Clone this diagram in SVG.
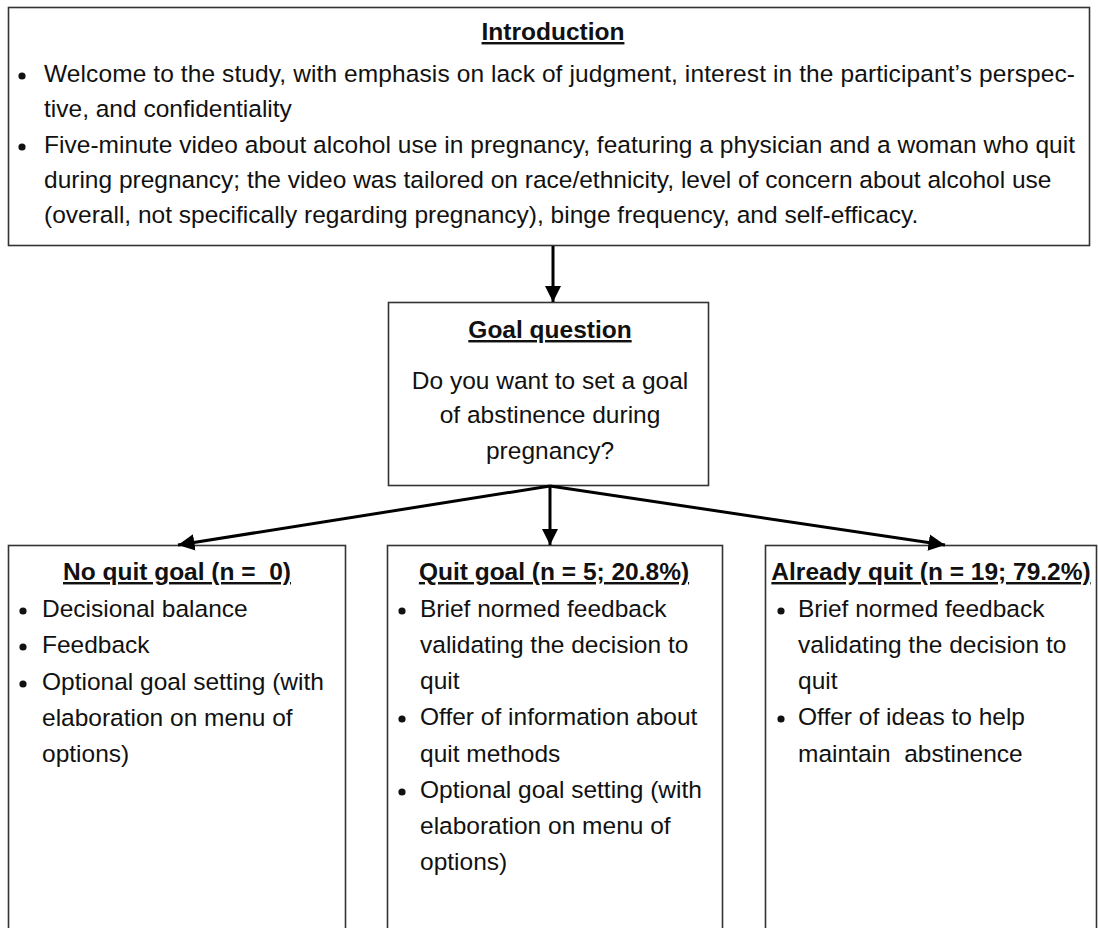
<svg xmlns="http://www.w3.org/2000/svg" width="1098" height="928" viewBox="0 0 1098 928">
<style>
.box{fill:#fff;stroke:#333;stroke-width:1.6}
.t{font-family:"Liberation Sans",Arial,sans-serif;font-size:24.5px;fill:#111;white-space:pre}
.h{font-weight:bold;text-decoration:underline;text-anchor:middle}
.c{text-anchor:middle}
.b{fill:#111}
.conn{stroke:#000;stroke-width:3;fill:none}
</style>
<defs>
<marker id="ah" viewBox="0 0 10 10" refX="10" refY="5" markerWidth="5.5" markerHeight="5.5" markerUnits="strokeWidth" orient="auto">
<path d="M0,0 L10,5 L0,10 z" fill="#000"/>
</marker>
</defs>
<rect width="1098" height="928" fill="#fff"/>
<g id="intro">
<rect class="box" x="8.5" y="7.5" width="1081" height="238"/>
<text class="t h" x="553" y="40">Introduction</text>
<circle class="b" cx="22" cy="76" r="3.6"/>
<text class="t" x="44" y="82" textLength="1031" lengthAdjust="spacing">Welcome to the study, with emphasis on lack of judgment, interest in the participant’s perspec-</text>
<text class="t" x="44" y="117">tive, and confidentiality</text>
<circle class="b" cx="22" cy="147" r="3.6"/>
<text class="t" x="44" y="153" textLength="1031" lengthAdjust="spacing">Five-minute video about alcohol use in pregnancy, featuring a physician and a woman who quit</text>
<text class="t" x="44" y="188">during pregnancy; the video was tailored on race/ethnicity, level of concern about alcohol use</text>
<text class="t" x="44" y="223">(overall, not specifically regarding pregnancy), binge frequency, and self-efficacy.</text>
</g>
<g id="goal">
<rect class="box" x="388.5" y="302.5" width="320" height="183"/>
<text class="t h" x="550" y="338">Goal question</text>
<text class="t c" x="550" y="389">Do you want to set a goal</text>
<text class="t c" x="550" y="423">of abstinence during</text>
<text class="t c" x="550" y="459">pregnancy?</text>
</g>
<g id="noquit">
<rect class="box" x="8.5" y="545.5" width="337" height="400"/>
<text class="t h" x="177" y="580" xml:space="preserve">No quit goal (n =  0)</text>
<circle class="b" cx="23" cy="611" r="3.6"/>
<text class="t" x="42" y="617">Decisional balance</text>
<circle class="b" cx="23" cy="647" r="3.6"/>
<text class="t" x="42" y="653">Feedback</text>
<circle class="b" cx="23" cy="684" r="3.6"/>
<text class="t" x="42" y="690">Optional goal setting (with</text>
<text class="t" x="42" y="726">elaboration on menu of</text>
<text class="t" x="42" y="762">options)</text>
</g>
<g id="quitgoal">
<rect class="box" x="387.5" y="545.5" width="335" height="400"/>
<text class="t h" x="554" y="580">Quit goal (n = 5; 20.8%)</text>
<circle class="b" cx="402" cy="611" r="3.6"/>
<text class="t" x="420" y="617">Brief normed feedback</text>
<text class="t" x="420" y="653">validating the decision to</text>
<text class="t" x="420" y="689">quit</text>
<circle class="b" cx="402" cy="719" r="3.6"/>
<text class="t" x="420" y="725">Offer of information about</text>
<text class="t" x="420" y="762">quit methods</text>
<circle class="b" cx="402" cy="792" r="3.6"/>
<text class="t" x="420" y="798">Optional goal setting (with</text>
<text class="t" x="420" y="834">elaboration on menu of</text>
<text class="t" x="420" y="870">options)</text>
</g>
<g id="already">
<rect class="box" x="765.5" y="545.5" width="331" height="400"/>
<text class="t h" x="931" y="580">Already quit (n = 19; 79.2%)</text>
<circle class="b" cx="781" cy="611" r="3.6"/>
<text class="t" x="798" y="617">Brief normed feedback</text>
<text class="t" x="798" y="653">validating the decision to</text>
<text class="t" x="798" y="689">quit</text>
<circle class="b" cx="781" cy="719" r="3.6"/>
<text class="t" x="798" y="725">Offer of ideas to help</text>
<text class="t" x="798" y="762" xml:space="preserve">maintain  abstinence</text>
</g>
<g id="connectors">
<line class="conn" x1="553" y1="246" x2="553" y2="302" marker-end="url(#ah)"/>
<line class="conn" x1="550" y1="486" x2="178" y2="545" marker-end="url(#ah)"/>
<line class="conn" x1="550" y1="486" x2="550" y2="545" marker-end="url(#ah)"/>
<line class="conn" x1="550" y1="486" x2="945" y2="545" marker-end="url(#ah)"/>
</g>
</svg>
